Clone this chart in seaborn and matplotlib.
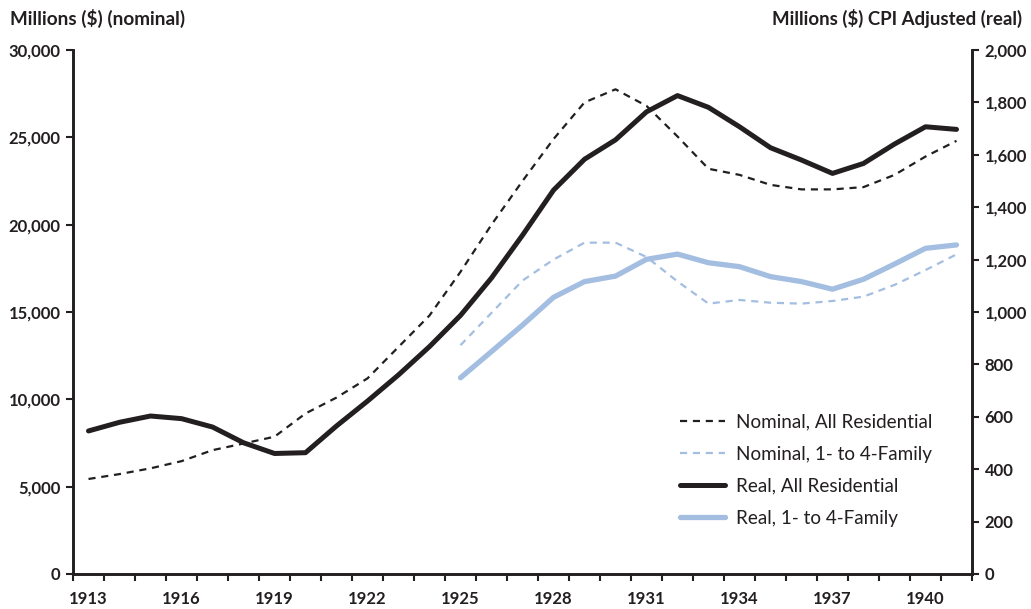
import matplotlib
matplotlib.use("Agg")
import matplotlib.pyplot as plt
import matplotlib.ticker as mticker
import seaborn as sns
import pandas as pd
import numpy as np

# ---- data ----
years_all = [1913, 1914, 1915, 1916, 1917, 1918, 1919, 1920, 1921, 1922,
             1923, 1924, 1925, 1926, 1927, 1928, 1929, 1930, 1931, 1932,
             1933, 1934, 1935, 1936, 1937, 1938, 1939, 1940, 1941]
years_family = [1925, 1926, 1927, 1928, 1929, 1930, 1931, 1932, 1933,
                1934, 1935, 1936, 1937, 1938, 1939, 1940, 1941]

# nominal, millions $ (left axis)
nominal_all = [5440, 5720, 6050, 6460, 7090, 7470, 7860, 9190, 10100, 11200,
               13000, 14800, 17300, 20000, 22500, 24900, 27000, 27750, 26800, 25050,
               23200, 22850, 22280, 22020, 22020, 22150, 22850, 23900, 24800]
nominal_family = [13100, 14950, 16800, 18000, 18970, 18970, 18150, 16750, 15480,
                  15690, 15530, 15480, 15630, 15880, 16550, 17400, 18300]

# real, CPI adjusted millions $ (right axis)
real_all = [546, 579, 603, 593, 561, 501, 460, 463, 565, 660,
            760, 868, 987, 1130, 1293, 1465, 1583, 1657, 1764, 1826,
            1781, 1707, 1627, 1580, 1529, 1567, 1641, 1707, 1697]
real_family = [749, 849, 950, 1056, 1116, 1137, 1201, 1221, 1188,
               1173, 1135, 1116, 1087, 1125, 1183, 1243, 1256]

xtick_years = [1913, 1916, 1919, 1922, 1925, 1928, 1931, 1934, 1937, 1940]
left_ticks = [0, 5000, 10000, 15000, 20000, 25000, 30000]
right_ticks = [0, 200, 400, 600, 800, 1000, 1200, 1400, 1600, 1800, 2000]

labels = ["Nominal, All Residential", "Nominal, 1- to 4-Family",
          "Real, All Residential", "Real, 1- to 4-Family"]

df_all = pd.DataFrame({"year": years_all, "nominal": nominal_all, "real": real_all})
df_fam = pd.DataFrame({"year": years_family, "nominal": nominal_family, "real": real_family})

# ---- style ----
sns.set_style("ticks")
plt.rcParams["font.family"] = ["Lato", "DejaVu Sans"]

BLACK = "#231f20"
BLUE = "#a3bee0"

fig = plt.figure(figsize=(10.31, 6.09), dpi=100)
ax = fig.add_axes([73 / 1031, 1 - 574 / 609, (972 - 73) / 1031, (574 - 50) / 609])
ax2 = ax.twinx()

sns.lineplot(data=df_all, x="year", y="nominal", ax=ax, color=BLACK,
             linewidth=1.6, linestyle=(0, (3.2, 2.6)), label=labels[0], legend=False)
sns.lineplot(data=df_fam, x="year", y="nominal", ax=ax, color=BLUE,
             linewidth=1.6, linestyle=(0, (3.2, 2.6)), label=labels[1], legend=False)
sns.lineplot(data=df_all, x="year", y="real", ax=ax2, color=BLACK,
             linewidth=3.6, label=labels[2], legend=False,
             solid_capstyle="round", solid_joinstyle="round")
sns.lineplot(data=df_fam, x="year", y="real", ax=ax2, color=BLUE,
             linewidth=3.8, label=labels[3], legend=False,
             solid_capstyle="round", solid_joinstyle="round")

for a in (ax, ax2):
    a.set_xlim(1912.5, 1941.5)
    a.set_xlabel("")
    a.set_ylabel("")
    for s in a.spines.values():
        s.set_linewidth(1.9)
        s.set_color(BLACK)
    a.spines["top"].set_visible(False)

ax.set_ylim(0, 30000)
ax2.set_ylim(0, 2000)
ax.set_yticks(left_ticks)
ax2.set_yticks(right_ticks)
ax.yaxis.set_major_formatter(mticker.StrMethodFormatter("{x:,.0f}"))
ax2.yaxis.set_major_formatter(mticker.StrMethodFormatter("{x:,.0f}"))

ax.set_xticks(xtick_years)
ax.set_xticklabels([str(y) for y in xtick_years])
ax.set_xticks(np.arange(1912.5, 1942.0, 1.0), minor=True)
ax.tick_params(axis="x", which="major", length=0, pad=12,
               labelsize=12, labelcolor=BLACK)
ax.tick_params(axis="x", which="minor", length=5, width=1.5, color=BLACK,
               direction="out")
ax.tick_params(axis="y", which="major", length=5, width=1.5, color=BLACK,
               labelsize=12, labelcolor=BLACK, pad=4)
ax2.tick_params(axis="y", which="major", length=5, width=1.5, color=BLACK,
                labelsize=12, labelcolor=BLACK, pad=4)
ax2.tick_params(axis="x", which="both", length=0)
for lab in ax.get_xticklabels() + ax.get_yticklabels() + ax2.get_yticklabels():
    lab.set_fontweight("bold")

fig.text(10 / 1031, 1 - 18 / 609, "Millions ($) (nominal)", fontsize=13.6,
         fontweight="bold", color=BLACK, ha="left", va="center")
fig.text(1022 / 1031, 1 - 18 / 609, "Millions ($) CPI Adjusted (real)", fontsize=13.4,
         fontweight="bold", color=BLACK, ha="right", va="center")

h1, l1 = ax.get_legend_handles_labels()
h2, l2 = ax2.get_legend_handles_labels()
leg = fig.legend(h1 + h2, l1 + l2, loc="upper left",
                 bbox_to_anchor=(672 / 1031, 1 - 406 / 609), frameon=False,
                 fontsize=13.6, handlelength=2.4, handletextpad=0.58,
                 labelspacing=0.8, borderaxespad=0)
for t in leg.get_texts():
    t.set_color(BLACK)

fig.savefig("out.png", dpi=100)
